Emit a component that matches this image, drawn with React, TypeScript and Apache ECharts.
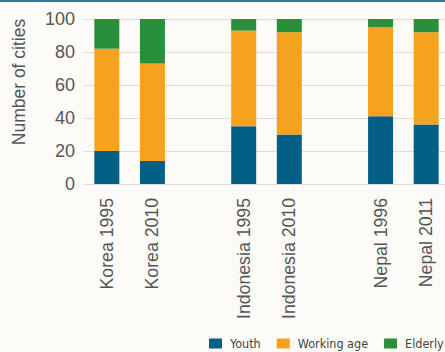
import React, { useEffect, useRef } from "react";
import * as echarts from "echarts";

const categories = ["Korea 1995", "Korea 2010", "", "Indonesia 1995", "Indonesia 2010", "", "Nepal 1996", "Nepal 2011"];
const youth = [20, 14, null, 35, 30, null, 41, 36];
const workingAge = [62, 59, null, 58, 62, null, 54, 56];
const elderly = [18, 27, null, 7, 8, null, 5, 8];
const yTicks = { min: 0, max: 100, interval: 20 };
const yName = "Number of cities";

export default function App() {
  const ref = useRef<HTMLDivElement>(null);
  useEffect(() => {
    if (!ref.current) return;
    const chart = echarts.init(ref.current, null, { renderer: "svg" });
    const barCommon = { type: "bar" as const, stack: "total", barWidth: 25 };
    chart.setOption({
      animation: false,
      backgroundColor: "#fcfbf7",
      textStyle: { fontFamily: "'Liberation Sans', Arial, sans-serif" },
      graphic: [
        { type: "rect", left: 0, top: 0, shape: { width: 445, height: 2 }, style: { fill: "#2b78a0" } },
        {
          type: "text",
          x: 19,
          y: 82,
          rotation: Math.PI / 2,
          style: {
            text: yName,
            fill: "#555",
            fontSize: 17.5,
            fontFamily: "'Liberation Sans', Arial, sans-serif",
            textAlign: "center",
            textVerticalAlign: "middle",
          },
        },
      ],
      grid: { left: 84, right: -4, top: 19, bottom: 168, outerBoundsMode: "none", containLabel: false },
      legend: {
        left: 209,
        top: 337,
        padding: 0,
        width: 400,
        itemWidth: 13,
        itemHeight: 10,
        itemGap: 16,
        icon: "rect",
        textStyle: {
          fontFamily: "'Liberation Sans Narrow', 'DejaVu Sans Condensed', sans-serif",
          fontSize: 12.5,
          color: "#444",
          padding: [0, 0, 0, 3],
        },
        data: ["Youth", "Working age", "Elderly"],
      },
      xAxis: {
        type: "category",
        data: categories,
        axisLine: { show: false },
        axisTick: { show: false },
        axisLabel: { rotate: 90, margin: 14, fontSize: 17.7, color: "#555", interval: 0 },
      },
      yAxis: {
        type: "value",
        min: yTicks.min,
        max: yTicks.max,
        interval: yTicks.interval,
        axisLabel: { fontSize: 18, color: "#555", margin: 9 },
        splitLine: { lineStyle: { color: "#dcdcdc" } },
      },
      series: [
        { ...barCommon, name: "Youth", data: youth, itemStyle: { color: "#035f86" } },
        { ...barCommon, name: "Working age", data: workingAge, itemStyle: { color: "#f5a21f" } },
        { ...barCommon, name: "Elderly", data: elderly, itemStyle: { color: "#2a8f3a" } },
      ],
    });
    return () => chart.dispose();
  }, []);
  return <div ref={ref} style={{ position: "absolute", left: 0, top: 0, width: 445, height: 352 }} />;
}
